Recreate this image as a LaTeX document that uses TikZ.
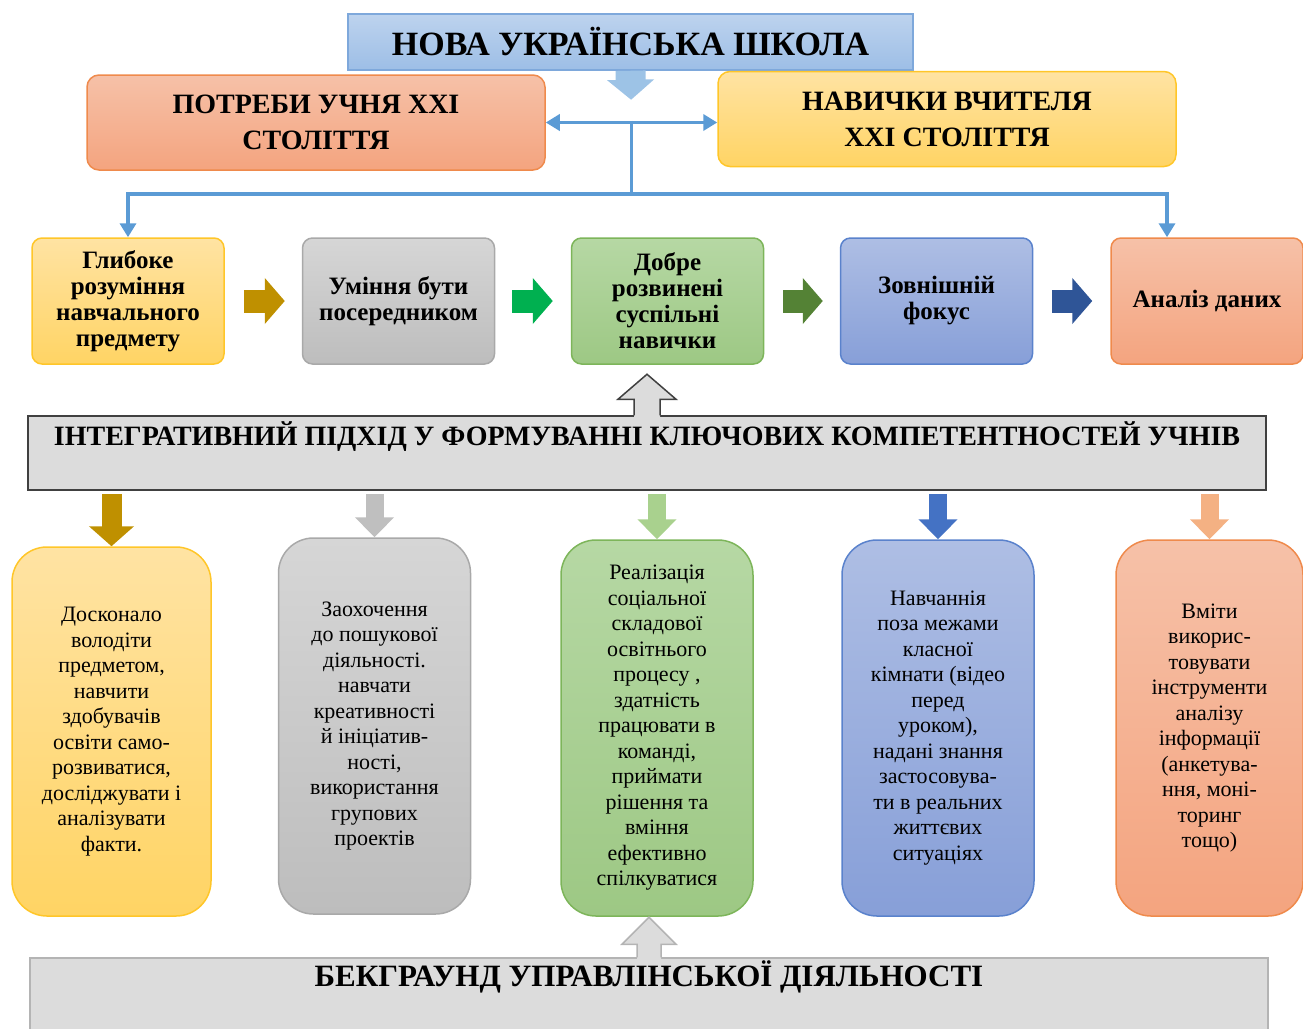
\documentclass[tikz,border=0pt]{standalone}
\usepackage{fontspec}
\setmainfont{Liberation Serif}
\usetikzlibrary{arrows.meta, positioning, calc}
\definecolor{yellowtop}{HTML}{FFE3A3}
\definecolor{yellowbot}{HTML}{FFD464}
\definecolor{yellowline}{HTML}{FFC629}
\definecolor{graytop}{HTML}{D6D6D6}
\definecolor{graybot}{HTML}{BDBDBD}
\definecolor{grayline}{HTML}{A9A9A9}
\definecolor{greentop}{HTML}{B6D8A4}
\definecolor{greenbot}{HTML}{9DC884}
\definecolor{greenline}{HTML}{7DB55A}
\definecolor{bluetop}{HTML}{AEBEE4}
\definecolor{bluebot}{HTML}{879FD8}
\definecolor{blueline}{HTML}{5A82CC}
\definecolor{salmontop}{HTML}{F6C1A8}
\definecolor{salmonbot}{HTML}{F4A47F}
\definecolor{salmonline}{HTML}{EF8A4C}
\definecolor{titletop}{HTML}{BDD3EE}
\definecolor{titlebot}{HTML}{9DBEE6}
\definecolor{titleline}{HTML}{7EA8DB}
\definecolor{linkblue}{HTML}{5B9BD5}
\definecolor{titlearrow}{HTML}{9DC3E6}
\definecolor{barfill}{HTML}{DCDCDC}
\definecolor{barline}{HTML}{404040}
\definecolor{baseedge}{HTML}{B4B4B4}
\definecolor{goldarrow}{HTML}{BF9000}
\definecolor{greenarrow}{HTML}{00B050}
\definecolor{olivearrow}{HTML}{548235}
\definecolor{navyarrow}{HTML}{2F5597}
\definecolor{grayarrow}{HTML}{BFBFBF}
\definecolor{lightgreenarrow}{HTML}{A9D18E}
\definecolor{bluearrow}{HTML}{4472C4}
\definecolor{salmonarrow}{HTML}{F4B183}

\begin{document}
\begin{tikzpicture}[x=1pt, y=-1pt]
    \useasboundingbox (0,0) rectangle (1303,1028);
    % Styles
    \tikzstyle{titlebox} = [draw=titleline, line width=1.5pt, top color=titletop, bottom color=titlebot, minimum width=565pt, minimum height=56pt, inner sep=0pt, font=\fontsize{34}{36}\selectfont\bfseries]
    \tikzstyle{topbox} = [rounded corners=12pt, line width=1.5pt, minimum width=458pt, minimum height=95pt, inner sep=0pt, align=center, font=\fontsize{28}{36}\selectfont\bfseries]
    \tikzstyle{stepbox} = [rounded corners=10pt, line width=1.5pt, minimum width=192pt, minimum height=126pt, inner sep=0pt, align=center, font=\fontsize{25}{26}\selectfont\bfseries]
    \tikzstyle{notebox} = [rounded corners=35pt, line width=1.5pt, minimum width=192pt, minimum height=376pt, inner sep=0pt, align=center, font=\fontsize{22}{25.5}\selectfont]
    \tikzstyle{bar} = [fill=barfill, minimum width=1238pt, inner sep=0pt]
    \tikzstyle{bartext} = [inner sep=0pt, font=\fontsize{28}{30}\selectfont\bfseries]
    \tikzstyle{link} = [draw=linkblue, line width=3.5pt, -{Triangle[width=16pt,length=14pt]}]
    \tikzstyle{fat} = [line width=23pt, -{Triangle[width=45pt,length=20pt]}]
    \tikzstyle{drop} = [line width=18pt, -{Triangle[width=38pt,length=20pt]}, shorten <=3pt]

    % Top
    \node[titlebox] (title) at (630.5,42) {НОВА УКРАЇНСЬКА ШКОЛА};
    \node[topbox, draw=salmonline, top color=salmontop, bottom color=salmonbot] (need) at (316,122.5) {ПОТРЕБИ УЧНЯ XXI\\СТОЛІТТЯ};
    \node[topbox, draw=yellowline, top color=yellowtop, bottom color=yellowbot] (skill) at (947,119) {НАВИЧКИ ВЧИТЕЛЯ\\XXI СТОЛІТТЯ};

    % Steps
    \node[stepbox, draw=yellowline, top color=yellowtop, bottom color=yellowbot] (k1) at (128,301) {Глибоке\\розуміння\\навчального\\предмету};
    \node[stepbox, draw=grayline, top color=graytop, bottom color=graybot] (k2) at (398.5,301) {Уміння бути\\посередником};
    \node[stepbox, draw=greenline, top color=greentop, bottom color=greenbot] (k3) at (667.5,301) {Добре\\розвинені\\суспільні\\навички};
    \node[stepbox, draw=blueline, top color=bluetop, bottom color=bluebot] (k4) at (936.5,301) {Зовнішній\\фокус};
    \node[stepbox, draw=salmonline, top color=salmontop, bottom color=salmonbot] (k5) at (1207,301) {Аналіз даних};

    % Integrative bar
    \node[bar, draw=barline, line width=1.5pt, minimum height=74pt] (integ) at (647,453) {};
    \node[bartext] (integtxt) at (647,437) {ІНТЕГРАТИВНИЙ ПІДХІД У ФОРМУВАННІ КЛЮЧОВИХ КОМПЕТЕНТНОСТЕЙ УЧНІВ};

    % Notes
    \node[notebox, minimum width=199pt, minimum height=369pt, draw=yellowline, top color=yellowtop, bottom color=yellowbot] (b1) at (111.5,731.5) {Досконало\\володіти\\предметом,\\навчити\\здобувачів\\освіти само-\\розвиватися,\\досліджувати і\\аналізувати\\факти.};
    \node[notebox, draw=grayline, top color=graytop, bottom color=graybot] (b2) at (374.5,726) {Заохочення\\до пошукової\\діяльності.\\навчати\\креативності\\й ініціатив-\\ності,\\використання\\групових\\проектів};
    \node[notebox, draw=greenline, top color=greentop, bottom color=greenbot] (b3) at (657,728) {Реалізація\\соціальної\\складової\\освітнього\\процесу ,\\здатність\\працювати в\\команді,\\приймати\\рішення та\\вміння\\ефективно\\спілкуватися};
    \node[notebox, draw=blueline, top color=bluetop, bottom color=bluebot] (b4) at (938,728) {Навчаннія\\поза межами\\класної\\кімнати (відео\\перед\\уроком),\\надані знання\\застосовува-\\ти в реальних\\життєвих\\ситуаціях};
    \node[notebox, minimum width=187pt, draw=salmonline, top color=salmontop, bottom color=salmonbot] (b5) at (1209.5,728) {Вміти\\викорис-\\товувати\\інструменти\\аналізу\\інформації\\(анкетува-\\ння, моні-\\торинг\\тощо)};

    % Base bar
    \node[bar, draw=baseedge, line width=1.5pt, minimum height=84pt] (base) at (649,1000) {};
    \node[bartext, font=\fontsize{31}{32}\selectfont\bfseries] (basetxt) at (649,977) {БЕКГРАУНД УПРАВЛІНСЬКОЇ ДІЯЛЬНОСТІ};

    % Top connectors
    \coordinate (hub) at ($(need.east)!0.5!(skill.west)$);
    \coordinate (bus) at ($(hub)+(0,73)$);
    \coordinate (k5in) at ([xshift=-40pt]k5.north);
    \draw[draw=titlearrow, line width=30pt, -{Triangle[width=46pt,length=20pt]}, shorten >=21pt] (title.south) -- (hub);
    \draw[link, {Triangle[width=16pt,length=14pt]}-{Triangle[width=16pt,length=14pt]}] (need.east) -- (need.east -| skill.west);
    \draw[draw=linkblue, line width=3.5pt] (hub) -- (bus);
    \draw[link] (bus) -| (k1.north);
    \draw[link] (bus) -| (k5in);

    % Step arrows
    \draw[fat, draw=goldarrow, shorten <=19pt, shorten >=17pt] (k1) -- (k2);
    \draw[fat, draw=greenarrow, shorten <=17pt, shorten >=18pt] (k2) -- (k3);
    \draw[fat, draw=olivearrow, shorten <=19pt, shorten >=17pt] (k3) -- (k4);
    \draw[fat, draw=navyarrow, shorten <=19pt, shorten >=18pt] (k4) -- (k5);

    % Drop arrows
    \draw[drop, draw=goldarrow, line width=20pt, -{Triangle[width=44pt,length=20pt]}] (integ.south -| b1.north) -- (b1.north);
    \draw[drop, draw=grayarrow] (integ.south -| b2.north) -- (b2.north);
    \draw[drop, draw=lightgreenarrow] (integ.south -| b3.north) -- (b3.north);
    \draw[drop, draw=bluearrow] (integ.south -| b4.north) -- (b4.north);
    \draw[drop, draw=salmonarrow] (integ.south -| b5.north) -- (b5.north);

    % Hollow up arrows
    \fill[barfill] ($(integ.north)+(-13,2)$) -- ++(0,-18) -- ++(-16,0) -- ($(integ.north)+(0,-41)$) -- ++(29,25) -- ++(-16,0) -- ++(0,18) -- cycle;
    \draw[barline, line width=1.5pt] ($(integ.north)+(-13,0)$) -- ++(0,-16) -- ++(-16,0) -- ($(integ.north)+(0,-41)$) -- ++(29,25) -- ++(-16,0) -- ++(0,16);
    \fill[barfill] ($(base.north)+(-12,2)$) -- ++(0,-15) -- ++(-15,0) -- ($(base.north)+(0,-40)$) -- ++(27,27) -- ++(-15,0) -- ++(0,15) -- cycle;
    \draw[baseedge, line width=1.5pt] ($(base.north)+(-12,0)$) -- ++(0,-13) -- ++(-15,0) -- ($(base.north)+(0,-40)$) -- ++(27,27) -- ++(-15,0) -- ++(0,13);
\end{tikzpicture}
\end{document}
